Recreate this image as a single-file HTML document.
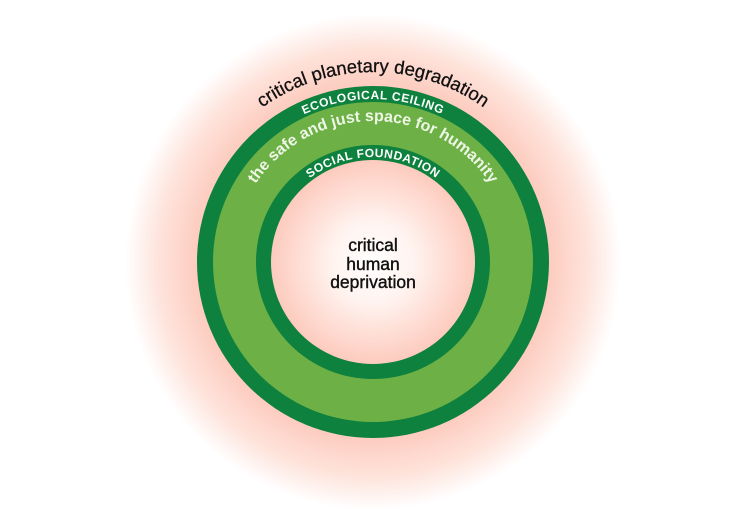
<!DOCTYPE html>
<html><head><meta charset="utf-8"><style>
html,body{margin:0;padding:0;background:#fff;width:754px;height:526px;overflow:hidden}
text{font-family:"Liberation Sans",sans-serif}
</style></head><body>
<svg width="754" height="526" viewBox="0 0 754 526">
<defs>
<radialGradient id="glow" cx="373" cy="262" r="248" gradientUnits="userSpaceOnUse">
<stop offset="0" stop-color="#fdcabd"/>
<stop offset="0.72" stop-color="#fdcdc1"/>
<stop offset="0.87" stop-color="#fee4dc"/>
<stop offset="1" stop-color="#ffffff"/>
</radialGradient>
<radialGradient id="inner" cx="373" cy="262" r="103" gradientUnits="userSpaceOnUse">
<stop offset="0" stop-color="#ffffff"/>
<stop offset="0.4" stop-color="#fff3ef"/>
<stop offset="1" stop-color="#fdcabd"/>
</radialGradient>
<path id="p1" d="M 183 262 A 190 190 0 0 1 563 262"/>
<path id="p2" d="M 210 262 A 163 163 0 0 1 536 262"/>
<path id="p3" d="M 232 262 A 141 141 0 0 1 514 262"/>
<path id="p4" d="M 268 262 A 105 105 0 0 1 478 262"/>
</defs>
<rect width="754" height="526" fill="#fff"/>
<circle cx="373" cy="262" r="248" fill="url(#glow)"/>
<circle cx="373" cy="262" r="176" fill="#0d813d"/>
<circle cx="373" cy="262" r="160" fill="#6db046"/>
<circle cx="373" cy="262" r="117" fill="#0d813d"/>
<circle cx="373" cy="262" r="102" fill="url(#inner)"/>
<text font-size="18.5" fill="#111" stroke="#111" stroke-width="0.3"><textPath href="#p1" startOffset="50%" text-anchor="middle">critical planetary degradation</textPath></text>
<text font-size="12" font-weight="bold" fill="#fff" letter-spacing="0.6"><textPath href="#p2" startOffset="50%" text-anchor="middle">ECOLOGICAL CEILING</textPath></text>
<text font-size="16" font-weight="bold" fill="#eef6e6"><textPath href="#p3" startOffset="50%" text-anchor="middle">the safe and just space for humanity</textPath></text>
<text font-size="12" font-weight="bold" fill="#fff" letter-spacing="0.5"><textPath href="#p4" startOffset="50%" text-anchor="middle">SOCIAL FOUNDATION</textPath></text>
<g font-size="17.5" fill="#111" stroke="#111" stroke-width="0.4" text-anchor="middle">
<text x="373" y="251">critical</text>
<text x="373" y="270">human</text>
<text x="373" y="288">deprivation</text>
</g>
</svg>
</body></html>
